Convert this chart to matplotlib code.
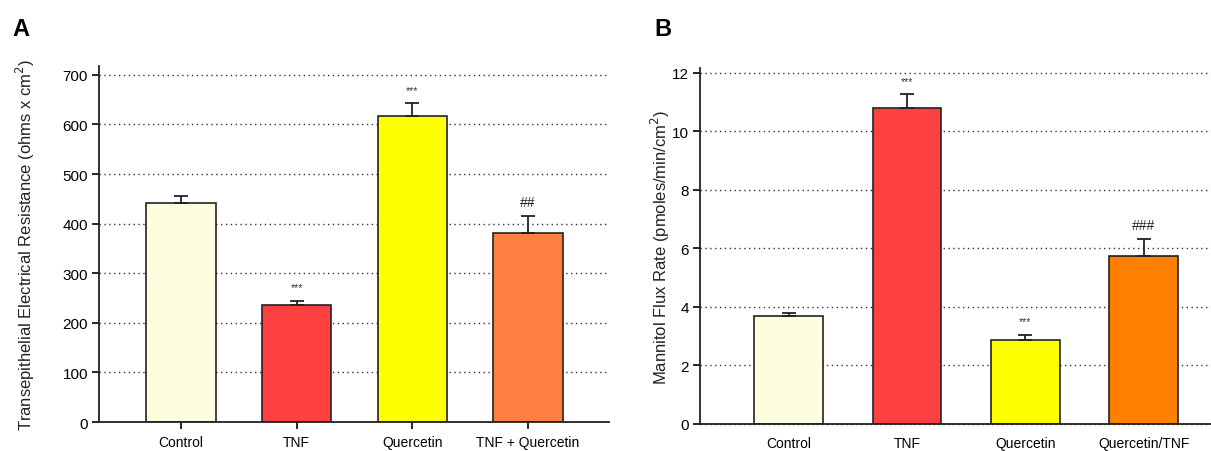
import numpy as np
import matplotlib
matplotlib.use('Agg')
import matplotlib.pyplot as plt

plt.rcParams['font.family'] = ['Liberation Sans', 'DejaVu Sans']

# Panel A data: transepithelial electrical resistance
groups_a = ['Control', 'TNF', 'Quercetin', 'TNF + Quercetin']
teer = [441, 235, 618, 381]
teer_err = [15, 10, 25, 34]
marks_a = ['', '***', '***', '##']
colors_a = ['#FFFDE0', '#FF4040', '#FFFF00', '#FF7F40']

# Panel B data: mannitol flux rate
groups_b = ['Control', 'TNF', 'Quercetin', 'Quercetin/TNF']
flux = [3.70, 10.80, 2.87, 5.73]
flux_err = [0.08, 0.47, 0.18, 0.57]
marks_b = ['', '***', '***', '###']
colors_b = ['#FFFDE0', '#FF4040', '#FFFF00', '#FF8000']


def draw_panel(ax, groups, vals, errs, marks, colors, ticks, ylim, xlim, width, ylabel, xticklen, lpad):
    x = np.arange(len(groups))
    for t in ticks[1:]:
        ax.axhline(t, color='#333333', linestyle=(0, (1, 2.5)), linewidth=1.0, zorder=0)
    ax.bar(x, vals, width=width, color=colors, edgecolor='#222222', linewidth=1.2, zorder=2)
    ax.errorbar(x, vals, yerr=[np.zeros(len(errs)), errs], fmt='none', ecolor='#222222',
                elinewidth=1.3, capsize=5, capthick=1.3, zorder=3)
    for xi, v, e, m in zip(x, vals, errs, marks):
        if not m:
            continue
        if m.startswith('*'):
            ax.annotate(m, xy=(xi, v + e), xytext=(0, 6), textcoords='offset points',
                        ha='center', va='bottom', fontsize=7.5, color='#333333')
        else:
            ax.annotate(m, xy=(xi, v + e), xytext=(0, 5), textcoords='offset points',
                        ha='center', va='bottom', fontsize=10, color='#222222')
    ax.set_xlim(*xlim)
    ax.set_ylim(*ylim)
    ax.set_yticks(ticks)
    ax.set_xticks(x)
    ax.set_xticklabels(groups, fontsize=10)
    ax.tick_params(axis='y', labelsize=11, length=5, width=1.2, direction='out', pad=3)
    ax.tick_params(axis='x', length=xticklen, width=1.2, direction='out', pad=9 - xticklen)
    ax.set_ylabel(ylabel, fontsize=12, color='#222222', labelpad=lpad)
    for s in ['top', 'right']:
        ax.spines[s].set_visible(False)
    ax.spines['left'].set_linewidth(1.3)
    ax.spines['bottom'].set_linewidth(1.3)
    ax.spines['left'].set_color('#222222')
    ax.spines['bottom'].set_color('#222222')


fig = plt.figure(figsize=(12.11, 4.52), dpi=100)
ax1 = fig.add_axes([0.0818, 0.064, 0.421, 0.788])
ax2 = fig.add_axes([0.578, 0.060, 0.422, 0.787])

draw_panel(ax1, groups_a, teer, teer_err, marks_a, colors_a,
           [0, 100, 200, 300, 400, 500, 600, 700], (0, 718), (-0.71, 3.7), 0.6,
           'Transepithelial Electrical Resistance (ohms x cm$^2$)', 5, 18)
draw_panel(ax2, groups_b, flux, flux_err, marks_b, colors_b,
           [0, 2, 4, 6, 8, 10, 12], (0, 12.15), (-0.75, 3.57), 0.58,
           'Mannitol Flux Rate (pmoles/min/cm$^2$)', 0, 0)
ax2.axhline(0, color='#333333', linestyle=(0, (1, 2.5)), linewidth=1.0, zorder=0, clip_on=False)

fig.text(0.010, 0.92, 'A', fontsize=17, fontweight='bold')
fig.text(0.540, 0.92, 'B', fontsize=17, fontweight='bold')

fig.savefig('out.png', dpi=100)
